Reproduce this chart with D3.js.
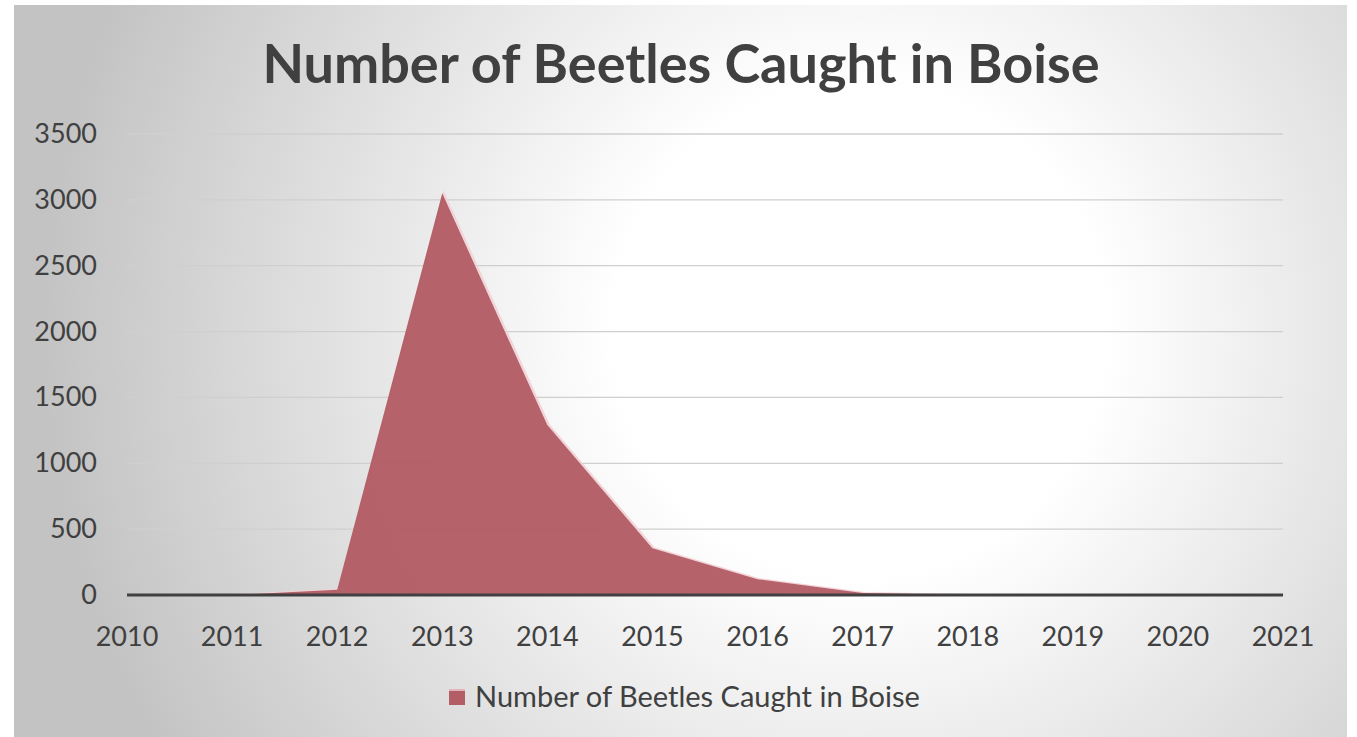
<!DOCTYPE html>
<html>
<head>
<meta charset="utf-8">
<script src="https://cdn.jsdelivr.net/npm/d3@7"></script>
<style>
  body { margin: 0; background: #fff; }
  svg { display: block; }
</style>
</head>
<body>
<div id="chart"></div>
<script>
// values
var years = [2010, 2011, 2012, 2013, 2014, 2015, 2016, 2017, 2018, 2019, 2020, 2021];
var beetles = [0, 0, 40, 3050, 1290, 355, 120, 15, 0, 0, 0, 0];
var yTicks = [0, 500, 1000, 1500, 2000, 2500, 3000, 3500];
var seriesName = "Number of Beetles Caught in Boise";
var fillColor = "#b35d66";
var textColor = "#404040";

var width = 1357, height = 737;
var box = {x: 14, y: 5, w: 1333, h: 732};
var plot = {left: 127, right: 1283, top: 134, bottom: 595};

var svg = d3.select("#chart").append("svg")
    .attr("width", width)
    .attr("height", height);

var defs = svg.append("defs");
var grad = defs.append("radialGradient")
    .attr("id", "bg")
    .attr("gradientUnits", "userSpaceOnUse")
    .attr("cx", 860).attr("cy", 330).attr("r", 820);
grad.append("stop").attr("offset", "0%").attr("stop-color", "#ffffff");
grad.append("stop").attr("offset", "30%").attr("stop-color", "#ffffff");
grad.append("stop").attr("offset", "100%").attr("stop-color", "#c3c3c3");

svg.append("rect")
    .attr("x", box.x).attr("y", box.y)
    .attr("width", box.w).attr("height", box.h)
    .attr("fill", "url(#bg)");

var x = d3.scaleLinear()
    .domain([years[0], years[years.length - 1]])
    .range([plot.left, plot.right]);

var y = d3.scaleLinear()
    .domain([0, 3500])
    .range([plot.bottom, plot.top]);

// gridlines
svg.append("g")
    .selectAll("line")
    .data(yTicks.slice(1))
    .join("line")
    .attr("x1", plot.left).attr("x2", plot.right)
    .attr("y1", d => y(d)).attr("y2", d => y(d))
    .attr("stroke", "#cfcfcf")
    .attr("stroke-width", 1.3);

// area
var area = d3.area()
    .x((d, i) => x(years[i]))
    .y0(y(0))
    .y1(d => y(d));

var line = d3.line()
    .x((d, i) => x(years[i]))
    .y(d => y(d));

svg.append("path")
    .datum(beetles)
    .attr("d", line)
    .attr("transform", "translate(1.5,0)")
    .attr("fill", "none")
    .attr("stroke", "#f3d3d7")
    .attr("stroke-width", 2);

svg.append("path")
    .datum(beetles)
    .attr("d", area)
    .attr("fill", fillColor)
    .attr("fill-opacity", 0.97);

// x axis line
svg.append("line")
    .attr("x1", plot.left).attr("x2", plot.right)
    .attr("y1", y(0)).attr("y2", y(0))
    .attr("stroke", "#404040")
    .attr("stroke-width", 3);

var tickFont = "27px Lato, 'Open Sans', sans-serif";

// y tick labels
svg.append("g")
    .selectAll("text")
    .data(yTicks)
    .join("text")
    .attr("x", 97)
    .attr("y", d => y(d) + 9)
    .attr("text-anchor", "end")
    .attr("fill", textColor)
    .style("font", tickFont)
    .text(d => d);

// x tick labels
svg.append("g")
    .selectAll("text")
    .data(years)
    .join("text")
    .attr("x", d => x(d))
    .attr("y", 646)
    .attr("text-anchor", "middle")
    .attr("fill", textColor)
    .style("font", tickFont)
    .text(d => d);

// title
svg.append("text")
    .attr("x", 681)
    .attr("y", 83)
    .attr("text-anchor", "middle")
    .attr("fill", textColor)
    .style("font", "bold 54px Lato, 'Open Sans', sans-serif")
    .text(seriesName);

// legend
svg.append("rect")
    .attr("x", 449).attr("y", 689)
    .attr("width", 16).attr("height", 16)
    .attr("fill", fillColor);
svg.append("line")
    .attr("x1", 449).attr("x2", 465)
    .attr("y1", 690).attr("y2", 690)
    .attr("stroke", "#f3d3d7").attr("stroke-width", 1.5);
svg.append("text")
    .attr("x", 475)
    .attr("y", 707)
    .attr("fill", textColor)
    .style("font", "29px Lato, 'Open Sans', sans-serif")
    .text(seriesName);
</script>
</body>
</html>
